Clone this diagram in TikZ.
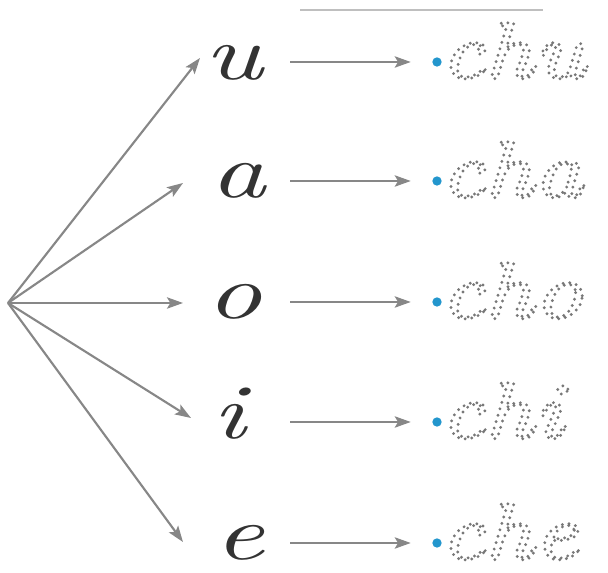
\documentclass[tikz,border=0pt]{standalone}
\usepackage{fontspec}
\usetikzlibrary{arrows.meta}
\newfontfamily\vowelfont{lmroman10-italic.otf}[FakeStretch=1.4]
\newfontfamily\wordfont{lmroman10-italic.otf}[FakeStretch=1.2]
\definecolor{arrowgray}{RGB}{135,135,135}
\definecolor{tracegray}{RGB}{120,120,120}
\definecolor{dotblue}{RGB}{35,150,205}
% outline of the glyphs, stroked with round dots
\newcommand\traced[1]{\special{pdf:literal direct 1 Tr 2.4 w 1 J [0 5] 0 d}#1\special{pdf:literal direct 0 Tr 0 J [] 0 d}}

\begin{document}
\begin{tikzpicture}[x=0.75pt,y=-0.75pt,
      fan/.style={draw=arrowgray,line width=1.6pt,-{Stealth[length=12pt,width=8.5pt,inset=2.5pt]}},
      letter/.style={anchor=base,inner sep=0pt,text=black!80,font=\fontsize{58}{70}\vowelfont},
      word/.style={anchor=base west,inner sep=0pt,text=tracegray,font=\fontsize{60}{72}\wordfont},
      start/.style={circle,fill=dotblue,inner sep=0pt,minimum size=7pt}]
      \useasboundingbox (0,0) rectangle (608,573);
      \draw[black!25,line width=0.9pt] (300,10) -- (543,10);
      % Root and tips of the fan
      \coordinate (root) at (8,303);
      \coordinate (tu) at (200,58);
      \coordinate (ta) at (183,183);
      \coordinate (to) at (183,303);
      \coordinate (ti) at (191,418);
      \coordinate (te) at (183,542);
      % Vowels
      \node[letter] (u) at (234,80) {u};
      \node[letter] (a) at (238,198) {a};
      \node[letter] (o) at (234,319) {o};
      \node[letter] (i) at (229,439) {i};
      \node[letter] (e) at (239,560) {e};
      % Starting dots and traced syllables
      \node[start] (du) at (437,62) {};
      \node[start] (da) at (437,181) {};
      \node[start] (do) at (437,302) {};
      \node[start] (di) at (437,422) {};
      \node[start] (de) at (437,543) {};
      \node[word] (chu) at (440,78) {\traced{chu}};
      \node[word] (cha) at (440,197) {\traced{cha}};
      \node[word] (cho) at (440,318) {\traced{cho}};
      \node[word] (chi) at (440,438) {\traced{chi}};
      \node[word] (che) at (440,559) {\traced{che}};
      % Arrows
      \draw[fan] (root) -- (tu);
      \draw[fan] (root) -- (ta);
      \draw[fan] (root) -- (to);
      \draw[fan] (root) -- (ti);
      \draw[fan] (root) -- (te);
      \coordinate (su) at (290,62);
      \coordinate (sa) at (290,181);
      \coordinate (so) at (290,302);
      \coordinate (si) at (290,422);
      \coordinate (se) at (290,543);
      \draw[fan,shorten >=16pt] (su) -- (du);
      \draw[fan,shorten >=16pt] (sa) -- (da);
      \draw[fan,shorten >=16pt] (so) -- (do);
      \draw[fan,shorten >=16pt] (si) -- (di);
      \draw[fan,shorten >=16pt] (se) -- (de);
    \end{tikzpicture}
\end{document}
